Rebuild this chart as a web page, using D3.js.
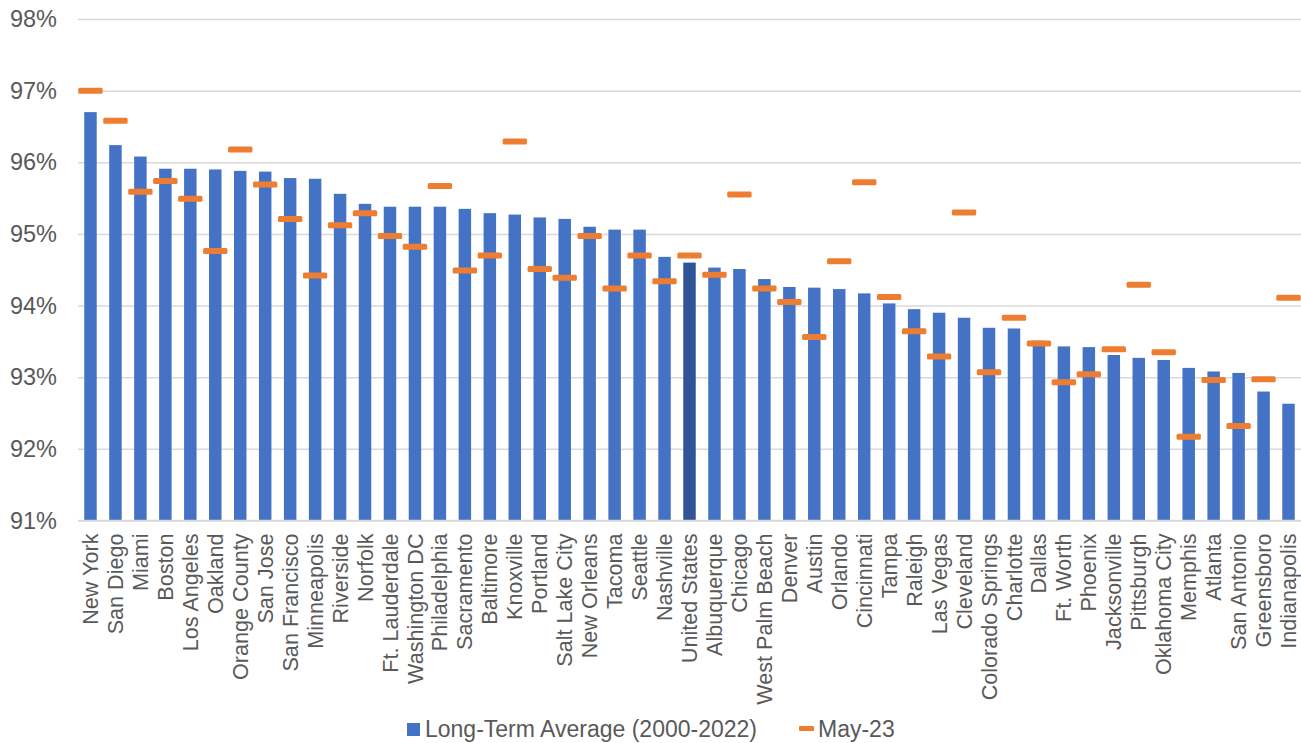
<!DOCTYPE html>
<html>
<head>
<meta charset="utf-8">
<script src="https://cdn.jsdelivr.net/npm/d3@7"></script>
<style>
  html, body { margin: 0; padding: 0; background: #fff; }
  svg { display: block; font-family: "Liberation Sans", Arial, sans-serif; }
</style>
</head>
<body>
<svg id="chart" width="1301" height="743"></svg>
<script>
// Metro areas, ordered by long-term average
const metros = [
  "New York", "San Diego", "Miami", "Boston", "Los Angeles", "Oakland", "Orange County",
  "San Jose", "San Francisco", "Minneapolis", "Riverside", "Norfolk", "Ft. Lauderdale",
  "Washington DC", "Philadelphia", "Sacramento", "Baltimore", "Knoxville", "Portland",
  "Salt Lake City", "New Orleans", "Tacoma", "Seattle", "Nashville", "United States",
  "Albuquerque", "Chicago", "West Palm Beach", "Denver", "Austin", "Orlando", "Cincinnati",
  "Tampa", "Raleigh", "Las Vegas", "Cleveland", "Colorado Springs", "Charlotte", "Dallas",
  "Ft. Worth", "Phoenix", "Jacksonville", "Pittsburgh", "Oklahoma City", "Memphis",
  "Atlanta", "San Antonio", "Greensboro", "Indianapolis"
];

// Long-Term Average (2000-2022), percent
const longTermAvg = [
  96.70, 96.24, 96.08, 95.91, 95.91, 95.90, 95.88,
  95.87, 95.78, 95.77, 95.56, 95.42, 95.38,
  95.38, 95.38, 95.35, 95.29, 95.27, 95.23,
  95.21, 95.10, 95.06, 95.06, 94.68, 94.60,
  94.53, 94.51, 94.37, 94.26, 94.25, 94.23, 94.17,
  94.03, 93.95, 93.90, 93.83, 93.69, 93.68, 93.51,
  93.43, 93.42, 93.31, 93.27, 93.24, 93.13,
  93.08, 93.06, 92.80, 92.63
];

// May-23, percent
const may23 = [
  97.00, 96.58, 95.59, 95.74, 95.49, 94.76, 96.18,
  95.69, 95.21, 94.42, 95.12, 95.29, 94.97,
  94.82, 95.67, 94.49, 94.70, 96.29, 94.51,
  94.39, 94.97, 94.24, 94.70, 94.34, 94.70,
  94.43, 95.55, 94.24, 94.05, 93.56, 94.62, 95.72,
  94.12, 93.64, 93.29, 95.30, 93.07, 93.83, 93.47,
  92.93, 93.04, 93.39, 94.29, 93.35, 92.17,
  92.96, 92.32, 92.97, 94.11
];

const yTicks = [91, 92, 93, 94, 95, 96, 97, 98];
const legendLabels = ["Long-Term Average (2000-2022)", "May-23"];
const highlight = "United States";

const data = metros.map((name, i) => ({ name, avg: longTermAvg[i], may: may23[i] }));

const svg = d3.select("#chart");
const plot = { left: 78, right: 1301, top: 19, bottom: 520.5 };

const x = d3.scaleBand().domain(metros).range([plot.left, plot.right]).padding(0);
const y = d3.scaleLinear().domain([91, 98]).range([plot.bottom, plot.top]);

const textColor = "#595959";
const gridColor = "#D9D9D9";
const blue = "#4472C4";
const darkBlue = "#2F5597";
const orange = "#ED7D31";

// Horizontal gridlines
const yAxis = d3.axisLeft(y)
  .tickValues(yTicks)
  .tickSize(-(plot.right - plot.left))
  .tickPadding(21)
  .tickFormat(d => d + "%");

const gy = svg.append("g")
  .attr("transform", `translate(${plot.left},0)`)
  .call(yAxis);
gy.select(".domain").remove();
gy.selectAll(".tick line").attr("stroke", gridColor).attr("stroke-width", 1.5);
gy.selectAll(".tick text")
  .attr("fill", textColor)
  .attr("font-size", 23.5)
  .attr("font-family", "Liberation Sans, Arial, sans-serif");

// Bars: long-term average
const barW = x.bandwidth() * 0.5;
svg.append("g")
  .selectAll("rect")
  .data(data)
  .join("rect")
  .attr("x", d => x(d.name) + (x.bandwidth() - barW) / 2)
  .attr("y", d => y(d.avg))
  .attr("width", barW)
  .attr("height", d => y(91) - y(d.avg))
  .attr("fill", d => d.name === highlight ? darkBlue : blue);

// Baseline
svg.append("line")
  .attr("x1", plot.left).attr("x2", plot.right)
  .attr("y1", y(91)).attr("y2", y(91))
  .attr("stroke", gridColor).attr("stroke-width", 1.5);

// Dash markers: May-23
const markH = 6;
svg.append("g")
  .selectAll("rect")
  .data(data)
  .join("rect")
  .attr("x", d => x(d.name) + 0.3)
  .attr("y", d => y(d.may) - markH / 2)
  .attr("width", x.bandwidth() - 0.6)
  .attr("height", markH)
  .attr("rx", 1.5)
  .attr("fill", orange);

// Category labels, rotated
const xAxis = d3.axisBottom(x).tickSize(0).tickPadding(0);
const gx = svg.append("g")
  .attr("transform", `translate(0,${plot.bottom})`)
  .call(xAxis);
gx.select(".domain").remove();
gx.selectAll(".tick text")
  .attr("transform", "rotate(-90)")
  .attr("text-anchor", "end")
  .attr("x", -13)
  .attr("y", 0)
  .attr("dy", "0.35em")
  .attr("fill", textColor)
  .attr("font-size", 21.6)
  .attr("font-family", "Liberation Sans, Arial, sans-serif");

// Legend
const legend = svg.append("g").attr("font-size", 23).attr("fill", textColor);
legend.append("rect")
  .attr("x", 407).attr("y", 723).attr("width", 13).attr("height", 13)
  .attr("fill", blue);
legend.append("text")
  .attr("x", 425).attr("y", 737)
  .attr("fill", textColor)
  .text(legendLabels[0]);
legend.append("rect")
  .attr("x", 799).attr("y", 726).attr("width", 15).attr("height", 5)
  .attr("rx", 1)
  .attr("fill", orange);
legend.append("text")
  .attr("x", 818).attr("y", 737)
  .attr("fill", textColor)
  .text(legendLabels[1]);
</script>
</body>
</html>
